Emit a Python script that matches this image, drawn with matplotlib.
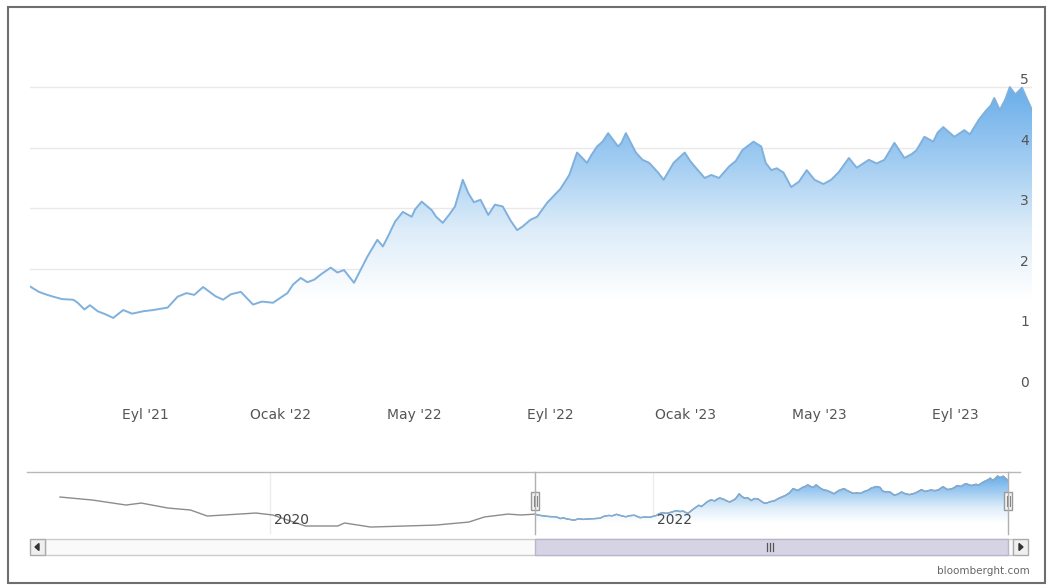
from datetime import datetime
import numpy as np
import matplotlib
matplotlib.use('Agg')
import matplotlib.pyplot as plt
import matplotlib.dates as mdates
from matplotlib.colors import LinearSegmentedColormap
from matplotlib.patches import Rectangle, PathPatch, Polygon
from matplotlib.path import Path

W, H = 1050, 587

# main view (yield, %)
dates = ['2021-05-20', '2021-05-28', '2021-06-03', '2021-06-10', '2021-06-18', '2021-06-28',
         '2021-07-02', '2021-07-08', '2021-07-13', '2021-07-20', '2021-07-27', '2021-08-03',
         '2021-08-12', '2021-08-20', '2021-08-30', '2021-09-08', '2021-09-21', '2021-09-30',
         '2021-10-08', '2021-10-15', '2021-10-23', '2021-11-03', '2021-11-10', '2021-11-17',
         '2021-11-26', '2021-12-07', '2021-12-15', '2021-12-25', '2022-01-07', '2022-01-12',
         '2022-01-19', '2022-01-25', '2022-01-31', '2022-02-07', '2022-02-15', '2022-02-21',
         '2022-02-27', '2022-03-08', '2022-03-20', '2022-03-29', '2022-04-03', '2022-04-08',
         '2022-04-14', '2022-04-21', '2022-04-29', '2022-05-02', '2022-05-08', '2022-05-17',
         '2022-05-21', '2022-05-27', '2022-06-02', '2022-06-07', '2022-06-14', '2022-06-19',
         '2022-06-24', '2022-06-30', '2022-07-07', '2022-07-13', '2022-07-20', '2022-07-27',
         '2022-08-02', '2022-08-07', '2022-08-14', '2022-08-20', '2022-08-29', '2022-09-10',
         '2022-09-18', '2022-09-25', '2022-10-04', '2022-10-08', '2022-10-13', '2022-10-18',
         '2022-10-23', '2022-11-01', '2022-11-04', '2022-11-08', '2022-11-17', '2022-11-23',
         '2022-11-29', '2022-12-07', '2022-12-12', '2022-12-21', '2022-12-31', '2023-01-05',
         '2023-01-09', '2023-01-18', '2023-01-24', '2023-01-31', '2023-02-09', '2023-02-15',
         '2023-02-21', '2023-03-03', '2023-03-10', '2023-03-14', '2023-03-19', '2023-03-24',
         '2023-03-30', '2023-04-06', '2023-04-13', '2023-04-20', '2023-04-27', '2023-05-05',
         '2023-05-12', '2023-05-19', '2023-05-28', '2023-06-04', '2023-06-15', '2023-06-22',
         '2023-06-29', '2023-07-08', '2023-07-17', '2023-07-24', '2023-07-28', '2023-08-04',
         '2023-08-12', '2023-08-16', '2023-08-21', '2023-08-31', '2023-09-09', '2023-09-14',
         '2023-09-22', '2023-09-28', '2023-10-03', '2023-10-06', '2023-10-11', '2023-10-16',
         '2023-10-20', '2023-10-25', '2023-10-31', '2023-11-09']
yields = [1.71, 1.62, 1.58, 1.54, 1.50, 1.49,
          1.44, 1.33, 1.40, 1.30, 1.25, 1.19,
          1.32, 1.26, 1.30, 1.32, 1.36, 1.54,
          1.60, 1.57, 1.70, 1.55, 1.49, 1.58,
          1.62, 1.41, 1.46, 1.44, 1.60, 1.74,
          1.85, 1.78, 1.82, 1.92, 2.02, 1.94,
          1.98, 1.77, 2.20, 2.48, 2.37, 2.55,
          2.78, 2.94, 2.86, 2.98, 3.11, 2.97,
          2.86, 2.76, 2.90, 3.03, 3.47, 3.25,
          3.10, 3.14, 2.89, 3.06, 3.03, 2.80,
          2.64, 2.70, 2.81, 2.86, 3.09, 3.32,
          3.55, 3.92, 3.75, 3.88, 4.02, 4.10,
          4.24, 4.02, 4.08, 4.24, 3.92, 3.80,
          3.75, 3.59, 3.47, 3.75, 3.92, 3.78,
          3.69, 3.50, 3.55, 3.50, 3.69, 3.78,
          3.96, 4.10, 4.02, 3.75, 3.63, 3.66,
          3.59, 3.35, 3.44, 3.63, 3.47, 3.40,
          3.47, 3.60, 3.83, 3.67, 3.80, 3.74,
          3.80, 4.08, 3.83, 3.90, 3.96, 4.18,
          4.10, 4.25, 4.34, 4.18, 4.29, 4.22,
          4.46, 4.60, 4.70, 4.82, 4.62, 4.80,
          5.00, 4.88, 4.99, 4.62]

# longer history shown only in the navigator
hist_dates = ['2018-11-26', '2019-01-27', '2019-04-01', '2019-04-30', '2019-06-20', '2019-08-02',
              '2019-09-03', '2019-10-05', '2019-12-05', '2020-01-06', '2020-03-08', '2020-05-09',
              '2020-05-22', '2020-07-11', '2020-11-12', '2021-01-14', '2021-02-13', '2021-03-30',
              '2021-04-23']
hist_yields = [3.19, 2.93, 2.50, 2.67, 2.24, 2.07,
               1.55, 1.64, 1.81, 1.64, 0.69, 0.69,
               0.95, 0.60, 0.77, 1.03, 1.47, 1.72,
               1.64]

tick_dates = ['2021-09-01', '2022-01-01', '2022-05-01', '2022-09-01', '2023-01-01', '2023-05-01', '2023-09-01']
tick_labels = ["Eyl '21", "Ocak '22", "May '22", "Eyl '22", "Ocak '23", "May '23", "Eyl '23"]
y_ticks = [0, 1, 2, 3, 4, 5]
nav_years = ['2020', '2022']


def to_num(ds):
    return mdates.date2num([datetime.strptime(d, '%Y-%m-%d') for d in ds])


def px_rect(x0, y0, x1, y1):
    return [x0 / W, 1 - y1 / H, (x1 - x0) / W, (y1 - y0) / H]


def gradient_fill(ax, x, y, base, top, lo, hi, cmap):
    verts = np.column_stack([np.r_[x, x[::-1], x[0]], np.r_[y, np.full(len(y), base), y[0]]])
    patch = PathPatch(Path(verts), facecolor='none', edgecolor='none', transform=ax.transData)
    ax.add_patch(patch)
    vals = np.linspace(base, top, 300).reshape(-1, 1)
    t = np.clip((vals - lo) / (hi - lo), 0, 1)
    img = ax.imshow(t, extent=[x[0], x[-1], base, top], origin='lower', aspect='auto',
                    cmap=cmap, vmin=0, vmax=1, zorder=1, interpolation='bilinear')
    img.set_clip_path(patch)


cmap = LinearSegmentedColormap.from_list('fill', ['#ffffff', '#dcecf9', '#9fcbf1', '#6aaeea'])

fig = plt.figure(figsize=(W / 100, H / 100), dpi=100)

# ---- main chart ----
ax = fig.add_axes(px_rect(30, 75, 1032, 390))
x = to_num(dates)
y = np.array(yields)
for v in y_ticks:
    ax.axhline(v, color='#e9e9e9', lw=1, zorder=0)
gradient_fill(ax, x, y, 0, 5.2, 1.5, 5.0, cmap)
ax.plot(x, y, color='#80b0dc', lw=1.4, zorder=3)
ax.set_xlim(x[0], x[-1])
ax.set_ylim(0, 5.2)
ax.set_xticks(to_num(tick_dates))
ax.set_xticklabels(tick_labels)
ax.set_yticks([])
ax.tick_params(axis='x', length=0, pad=13, labelsize=10, colors='#555555')
for s in ax.spines.values():
    s.set_visible(False)
for v in y_ticks:
    ax.text(0.997, v, str(v), transform=ax.get_yaxis_transform(), ha='right', va='bottom',
            fontsize=10, color='#555555', zorder=4)

# ---- navigator ----
nav = fig.add_axes(px_rect(27, 472, 1020, 534))
nx = np.r_[to_num(hist_dates), x]
ny = np.r_[hist_yields, yields]
nav.set_xlim(mdates.date2num(datetime(2018, 9, 24)), mdates.date2num(datetime(2023, 12, 2)))
nav.set_ylim(0, 5.35)
for yr in nav_years:
    xv = mdates.date2num(datetime(int(yr), 1, 1))
    nav.axvline(xv, color='#ececec', lw=1, zorder=0)
    nav.annotate(yr, (xv, 0.22), xycoords=('data', 'axes fraction'), xytext=(3, 0),
                 textcoords='offset points', ha='left', va='center', fontsize=10, color='#444444', zorder=5)
nav.plot(nx, ny, color='#8c8c8c', lw=1.0, zorder=2)
gradient_fill(nav, x, y, 0, 5.35, 1.0, 5.0, cmap)
nav.plot(x, y, color='#7eaedb', lw=1.0, zorder=3)
nav.set_xticks([])
nav.set_yticks([])
for s in nav.spines.values():
    s.set_visible(False)

# ---- overlay in pixel coordinates (navigator outline, handles, scrollbar, frame) ----
ov = fig.add_axes([0, 0, 1, 1])
ov.set_xlim(0, W)
ov.set_ylim(H, 0)
ov.axis('off')
ov.plot([27, 1020], [472, 472], color='#b8b8b8', lw=1)
for hx in (535, 1008):
    ov.plot([hx, hx], [472, 534], color='#b0b0b0', lw=1)
    ov.add_patch(Rectangle((hx - 4, 492), 8, 18, facecolor='#f4f4f4', edgecolor='#999999', lw=1))
    ov.plot([hx - 1.5, hx - 1.5], [496, 506], color='#888888', lw=0.8)
    ov.plot([hx + 1.5, hx + 1.5], [496, 506], color='#888888', lw=0.8)

ov.add_patch(Rectangle((45, 539), 968, 16, facecolor='#fafafa', edgecolor='#cccccc', lw=1))
ov.add_patch(Rectangle((535, 539), 473, 16, facecolor='#d6d4e4', edgecolor='#b8b6c8', lw=1))
for gx in (767, 770, 773):
    ov.plot([gx, gx], [543, 551], color='#555555', lw=0.9)
ov.add_patch(Rectangle((30, 539), 15, 16, facecolor='#efefef', edgecolor='#aaaaaa', lw=1))
ov.add_patch(Rectangle((1013, 539), 15, 16, facecolor='#efefef', edgecolor='#aaaaaa', lw=1))
ov.add_patch(Polygon([[39, 543.5], [39, 550.5], [35, 547]], closed=True, color='#333333'))
ov.add_patch(Polygon([[1019, 543.5], [1019, 550.5], [1023, 547]], closed=True, color='#333333'))

ov.text(1030, 571, 'bloomberght.com', ha='right', va='center', fontsize=7.5, color='#666666')
ov.add_patch(Rectangle((8, 7), 1037, 576, facecolor='none', edgecolor='#6e6e6e', lw=1.5))

fig.savefig('out.png', dpi=100)
